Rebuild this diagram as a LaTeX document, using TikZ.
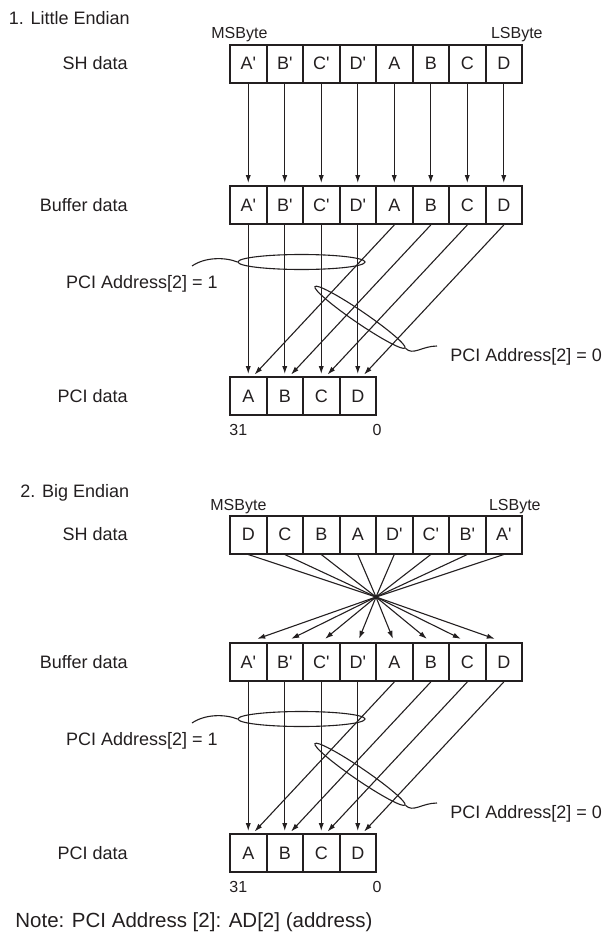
\documentclass[tikz,border=0pt]{standalone}
\usepackage{fontspec}
\setmainfont{Liberation Sans}
\usetikzlibrary{arrows.meta,calc,shapes.geometric}

\definecolor{octetnoir}{HTML}{231F20}
\newcommand{\prim}{\textquotesingle}

\tikzset{
  octet/.style={draw=octetnoir, line width=1pt, minimum width=18.25pt,
                minimum height=19pt, inner sep=0pt, text=octetnoir,
                font=\fontsize{9}{10}\selectfont},
  ligne/.style={anchor=east, inner sep=0pt, text=octetnoir, font=\fontsize{9}{10}\selectfont},
  titre/.style={anchor=west, inner sep=0pt, text=octetnoir, font=\fontsize{9}{10}\selectfont},
  petit/.style={inner sep=0pt, text=octetnoir, font=\fontsize{8}{9}\selectfont},
  remarque/.style={anchor=west, inner sep=0pt, text=octetnoir, font=\fontsize{10.25}{11}\selectfont},
  fleche/.style={draw=octetnoir, line width=0.55pt, -{Latex[length=4pt,width=2.6pt]}},
  trait/.style={draw=octetnoir, line width=0.55pt},
  groupe/.style={draw=octetnoir, line width=0.55pt, ellipse, inner sep=0pt},
}

\begin{document}
\begin{tikzpicture}[x=0.5pt, y=-0.5pt]
\useasboundingbox (0,0) rectangle (609,942);

% 1. Little Endian
\node[titre] (letitre) at (8.5,18) {1. Little Endian};
\node[petit, anchor=west] (lemsb) at (211,35) {MSByte};
\node[petit, anchor=east] (lelsb) at (543,35) {LSByte};
\node[ligne] (lesh) at (128,63.5) {SH data};
\node[ligne] (lebuf) at (128,205) {Buffer data};
\node[ligne] (lepci) at (128,396) {PCI data};
\node[ligne] (lead1) at (218,284) {PCI Address[2] = 1};
\node[titre] (lead0) at (450,357) {PCI Address[2] = 0};
\foreach \t [count=\i] in {A\prim,B\prim,C\prim,D\prim,A,B,C,D}{
  \node[octet] (lesh\i) at (211.75+36.5*\i,63.5) {\t};
  \node[octet] (lebuf\i) at (211.75+36.5*\i,205) {\t};
}
\foreach \t [count=\i] in {A,B,C,D}
  \node[octet] (lepci\i) at (211.75+36.5*\i,396) {\t};
\node[petit, anchor=north west] (le31) at ([yshift=-4pt]lepci1.south west) {31};
\node[petit, anchor=north] (le0) at ([yshift=-4pt]lepci4.south east) {0};

\foreach \i in {1,...,8}
  \draw[fleche, shorten >=1pt] (lesh\i) -- (lebuf\i);
\foreach \i [evaluate=\i as \j using int(\i+4)] in {1,...,4}{
  \draw[fleche, shorten >=1pt] (lebuf\i) -- (lepci\i);
  \draw[fleche, shorten >=1pt] (lebuf\j.south) -- ([xshift=2.5pt]lepci\i.north);
}
\node[groupe, minimum width=63.5pt, minimum height=7.5pt] (leg1) at (301.5,262) {};
\node[groupe, minimum width=54.5pt, minimum height=6pt, rotate=-34.3] (leg0) at (360,317.3) {};
\coordinate (lec1) at (192,266);
\coordinate (lec0) at (437,346);
\draw[trait] (lec1) .. controls (205,257) and (225,257) .. (leg1.west);
\draw[trait] (leg0.east) .. controls (413,356) and (422,346) .. (lec0);

% 2. Big Endian
\node[titre] (betitre) at (20,493) {2. Big Endian};
\node[petit, anchor=west] (bemsb) at (210,507) {MSByte};
\node[petit, anchor=east] (belsb) at (541,507) {LSByte};
\node[ligne] (besh) at (128,534.5) {SH data};
\node[ligne] (bebuf) at (128,662) {Buffer data};
\node[ligne] (bepci) at (128,853) {PCI data};
\node[ligne] (bead1) at (218,741) {PCI Address[2] = 1};
\node[titre] (bead0) at (450,814) {PCI Address[2] = 0};
\foreach \t [count=\i] in {D,C,B,A,D\prim,C\prim,B\prim,A\prim}
  \node[octet] (besh\i) at (211.75+36.5*\i,534.5) {\t};
\foreach \t [count=\i] in {A\prim,B\prim,C\prim,D\prim,A,B,C,D}
  \node[octet] (bebuf\i) at (211.75+36.5*\i,662) {\t};
\foreach \t [count=\i] in {A,B,C,D}
  \node[octet] (bepci\i) at (211.75+36.5*\i,853) {\t};
\node[petit, anchor=north west] (be31) at ([yshift=-4pt]bepci1.south west) {31};
\node[petit, anchor=north] (be0) at ([yshift=-4pt]bepci4.south east) {0};

\coordinate (bex) at (376,597);
\foreach \i in {1,...,8}{
  \draw[trait] (besh\i.south) -- (bex);
  \draw[fleche] (bex) -- ($(bex)!0.93!(bebuf\i.north)$);
}
\foreach \i [evaluate=\i as \j using int(\i+4)] in {1,...,4}{
  \draw[fleche, shorten >=1pt] (bebuf\i) -- (bepci\i);
  \draw[fleche, shorten >=1pt] (bebuf\j.south) -- ([xshift=2.5pt]bepci\i.north);
}
\node[groupe, minimum width=63.5pt, minimum height=7.5pt] (beg1) at (301.5,719) {};
\node[groupe, minimum width=54.5pt, minimum height=6pt, rotate=-34.3] (beg0) at (360,774.3) {};
\coordinate (bec1) at (192,723);
\coordinate (bec0) at (437,803);
\draw[trait] (bec1) .. controls (205,714) and (225,714) .. (beg1.west);
\draw[trait] (beg0.east) .. controls (413,813) and (422,803) .. (bec0);

\node[remarque] (note) at (15,922) {Note: PCI Address [2]: AD[2] (address)};
\end{tikzpicture}
\end{document}
